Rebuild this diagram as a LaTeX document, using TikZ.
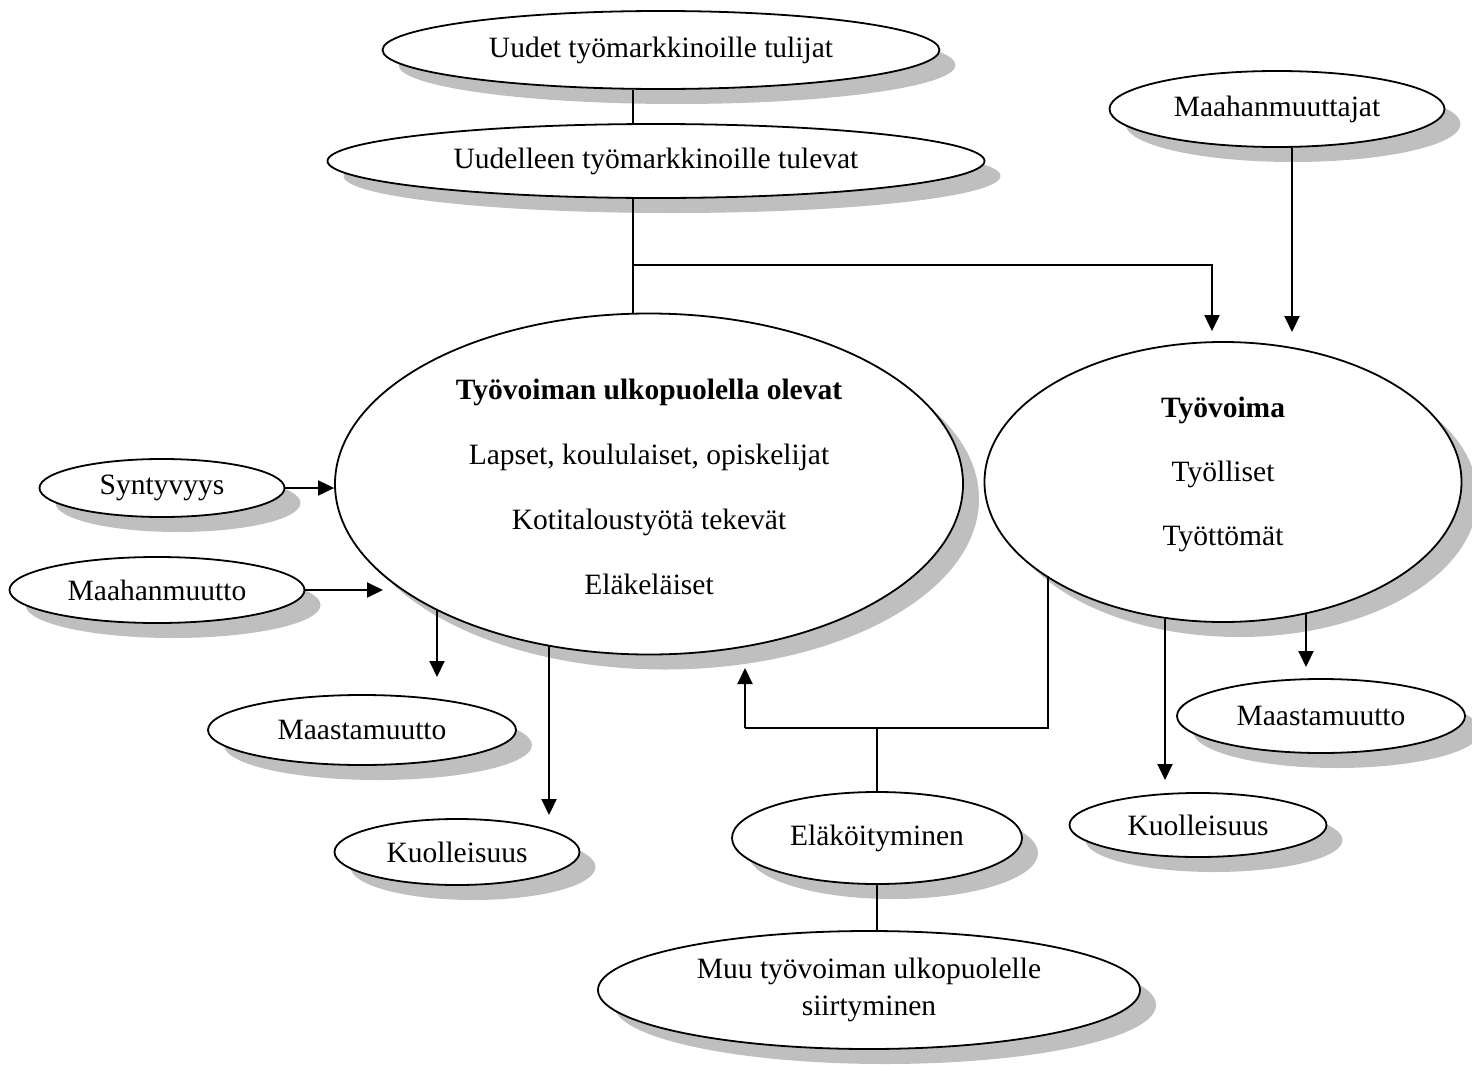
\documentclass[tikz,border=0pt]{standalone}
\usepackage{fontspec}
\setmainfont{Liberation Serif}
\usetikzlibrary{arrows.meta,shapes.geometric,shadows}
\begin{document}
\begin{tikzpicture}[x=1pt,y=-1pt,
  oval/.style={ellipse, draw=black, line width=1.8pt, fill=white, inner sep=0pt,
    align=center, font=\fontsize{29.5}{36}\selectfont,
    drop shadow={shadow xshift=16pt, shadow yshift=-15pt, fill=black!25, opacity=1}},
  plain/.style={line width=1.5pt},
  arr/.style={line width=2pt, -{Triangle[length=16pt,width=15pt]}}]
\useasboundingbox (0,0) rectangle (1472,1065);

\node[oval, minimum width=557pt, minimum height=78pt] (A) at (661,50) {Uudet työmarkkinoille tulijat};
\node[oval, minimum width=657pt, minimum height=74pt] (B) at (656,161) {Uudelleen työmarkkinoille tulevat};
\node[oval, minimum width=335pt, minimum height=76pt] (C) at (1277,109) {Maahanmuuttajat};
\node[oval, minimum width=628pt, minimum height=341pt, font=\fontsize{29.5}{65}\selectfont, text height=222pt] (D) at (649,484)
  {\textbf{Työvoiman ulkopuolella olevat}\\Lapset, koululaiset, opiskelijat\\Kotitaloustyötä tekevät\\Eläkeläiset};
\node[oval, minimum width=477pt, minimum height=280pt, font=\fontsize{29.5}{64}\selectfont, text depth=22pt] (E) at (1223,482)
  {\textbf{Työvoima}\\Työlliset\\Työttömät};
\node[oval, minimum width=245pt, minimum height=58pt] (F) at (162,488) {Syntyvyys};
\node[oval, minimum width=295pt, minimum height=66pt] (G) at (157,590) {Maahanmuutto};
\node[oval, minimum width=308pt, minimum height=70pt] (H) at (362,730) {Maastamuutto};
\node[oval, minimum width=245pt, minimum height=66pt] (I) at (457,852) {Kuolleisuus};
\node[oval, minimum width=290pt, minimum height=92pt] (J) at (877,838) {Eläköityminen};
\node[oval, minimum width=542pt, minimum height=118pt, font=\fontsize{29.5}{37}\selectfont] (K) at (869,990)
  {Muu työvoiman ulkopuolelle\\siirtyminen};
\node[oval, minimum width=288pt, minimum height=74pt] (L) at (1321,716) {Maastamuutto};
\node[oval, minimum width=257pt, minimum height=64pt] (M) at (1198,825) {Kuolleisuus};

% coordinates for free ends and bends
\coordinate (t1) at (633,265);
\coordinate (t2) at (1212,265);
\coordinate (m1) at (1292,332);
\coordinate (g1) at (383,590);
\coordinate (h1) at (437,677);
\coordinate (i1) at (549,815);
\coordinate (k1) at (1165,780);
\coordinate (l1) at (1306,667);
\coordinate (r0) at (877,728);
\coordinate (r1) at (745,728);
\coordinate (r2) at (1048,728);
\coordinate (r3) at (745,668);

% connectors
\draw[plain] (A.south -| t1) -- (B.north -| t1);
\draw[plain] (B.south -| t1) -- (D.north -| t1);
\draw[arr] (t1) -- (t2) -- ([yshift=10pt]E.north -| t2);
\draw[arr] (C.south -| m1) -- (m1);
\draw[arr] (F.east) -- (F.east -| D.west);
\draw[arr] (G.east) -- (g1);
\draw[arr] (h1 |- D.210) -- (h1);
\draw[arr] (i1 |- D.238) -- (i1);
\draw[arr] (k1 |- E.247) -- (k1);
\draw[arr] (l1 |- E.302) -- (l1);
\draw[plain] (J.north) -- (r0);
\draw[plain] (r2 |- E.208) -- (r2) -- (r1);
\draw[arr] (r1) -- (r3);
\draw[plain] (J.south) -- (J.south |- K.north);
\end{tikzpicture}
\end{document}
